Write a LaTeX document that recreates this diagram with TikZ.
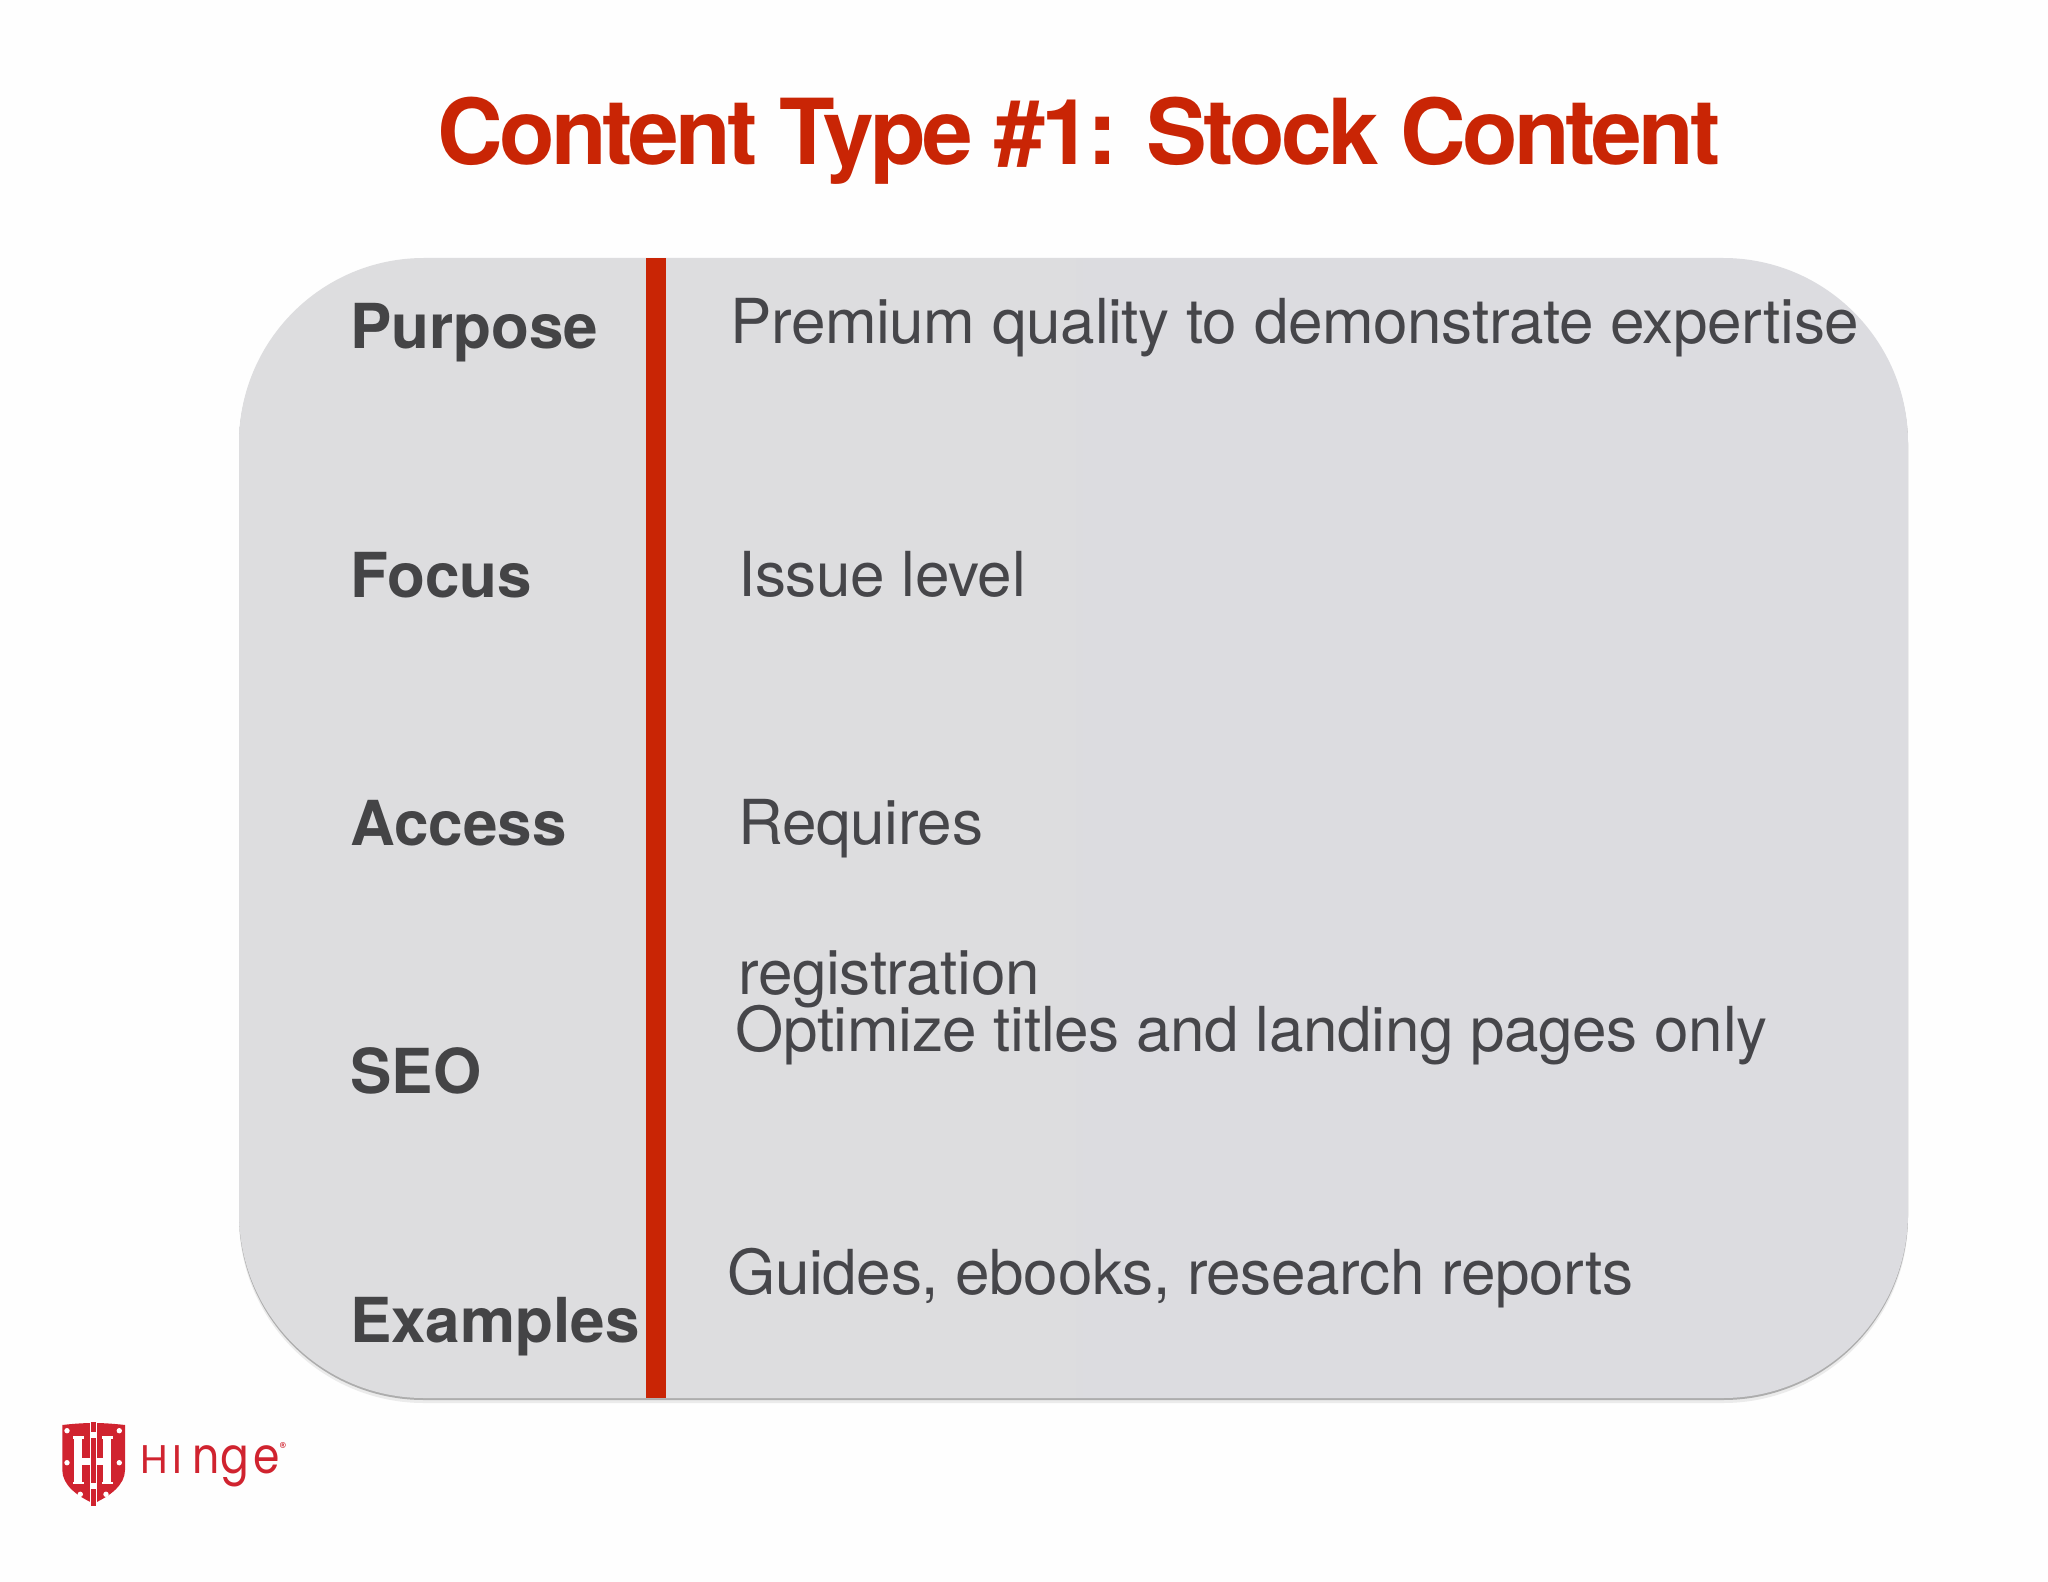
\documentclass[tikz,border=0pt]{standalone}
\usepackage{fontspec}
\setmainfont{TeX Gyre Heros}
\newfontfamily\logofont{Poppins}
\newfontfamily\logofontN[FakeStretch=0.85]{Poppins}
\definecolor{slidebg}{HTML}{FEFEFE}
\definecolor{panelL}{HTML}{DDDDDF}
\definecolor{panelR}{HTML}{DCDCE0}
\definecolor{hingered}{HTML}{C92505}
\definecolor{logored}{HTML}{D0232F}
\definecolor{labelgray}{HTML}{444446}
\definecolor{bodygray}{HTML}{46464A}
\tikzset{
  titletext/.style={anchor=base west,inner sep=0,text=hingered,font=\fontsize{45.5}{50}\selectfont\bfseries\addfontfeature{LetterSpace=-4.2}},
  labeltext/.style={anchor=base west,inner sep=0,text=labelgray,font=\fontsize{31}{36}\selectfont\bfseries},
  bodytext/.style={anchor=base west,inner sep=0,text=bodygray,font=\fontsize{31}{36}\selectfont\addfontfeature{LetterSpace=-0.6}},
  logotext/.style={anchor=base west,inner sep=0,text=logored},
  hole/.style={fill=white,draw=none},
}
\begin{document}
\begin{tikzpicture}[x=0.5pt,y=-0.5pt]
\useasboundingbox (0,0) rectangle (2048,1582);
\fill[slidebg] (0,0) rectangle (2048,1582);
% panel with thin shadow
\fill[black!8,rounded corners=92.5pt] (239,262) rectangle (1908,1403);
\fill[black!32,rounded corners=92.5pt] (239,260) rectangle (1908,1400);
\shade[left color=panelL,right color=panelR,rounded corners=92.5pt] (239,258) rectangle (1908,1398);
\fill[hingered] (646,258) rectangle (666,1398);
% title
\node[titletext] (title) at (437,165) {Content Type \#1: Stock Content};
% labels
\node[labeltext] (purpose) at (350,348.5) {Purpose};
\node[labeltext] (focus) at (350,597.5) {Focus};
\node[labeltext] (access) at (350,845.5) {Access};
\node[labeltext] (seo) at (350,1093.5) {SEO};
\node[labeltext] (examples) at (350,1342) {Examples};
% body
\node[bodytext] (premium) at (730,343.5) {Premium quality to demonstrate expertise};
\node[bodytext] (issue) at (738,596.5) {Issue level};
\node[bodytext] (requires) at (738,844.5) {Requires};
\node[bodytext] (registration) at (738,994.5) {registration};
\node[bodytext] (optimize) at (735,1051.5) {Optimize titles and landing pages only};
\node[bodytext] (guides) at (727,1294.5) {Guides, ebooks, research reports};
% logo shield
\fill[logored] (62.3,1425) .. controls (75,1423.5) and (85,1423) .. (93.6,1423)
  .. controls (102,1423) and (112,1423.5) .. (125,1425)
  -- (125,1470) .. controls (125,1485) and (110,1496) .. (93.6,1503.5)
  .. controls (77,1496) and (62.3,1485) .. (62.3,1470) -- cycle;
\fill[white] (90.3,1421) rectangle (96.7,1507);
\fill[logored] (91.3,1422) rectangle (95.7,1432);
\fill[logored] (91.3,1438) rectangle (95.7,1483);
\fill[logored] (91.3,1489) rectangle (95.7,1506);
% H letters
\foreach \sx in {0,29} {
  \fill[white] (72.5+\sx,1435.7) rectangle (84+\sx,1438.5);
  \fill[white] (72.5+\sx,1481.5) rectangle (84+\sx,1484.3);
  \fill[white] (74.3+\sx,1435.7) rectangle (82.3+\sx,1484.3);
}
\fill[white] (82.3,1458) rectangle (90.3,1465);
\fill[white] (96.7,1458) rectangle (103.3,1465);
% holes
\foreach \hx/\hy in {67/1430.7,119.3/1430.7,67/1462.7,119.3/1462.7,80.3/1494.3,106/1494.3}
  \fill[hole] (\hx,\hy) circle (2.7);
% logo wordmark
\node[logotext,font=\logofont\fontsize{20}{22}\selectfont] (logoH) at (140,1473) {H};
\node[logotext,font=\logofont\fontsize{20}{22}\selectfont] (logoI) at (172,1473) {I};
\node[logotext,font=\logofontN\fontsize{25}{27}\selectfont] (logoN) at (192,1473) {n};
\node[logotext,font=\logofontN\fontsize{25}{27}\selectfont] (logoG) at (220.5,1473) {g};
\node[logotext,font=\logofontN\fontsize{25}{27}\selectfont] (logoE) at (253,1473) {e};
\node[logotext,font=\logofont\fontsize{7}{8}\selectfont] (logoR) at (279,1452) {®};
\end{tikzpicture}
\end{document}
